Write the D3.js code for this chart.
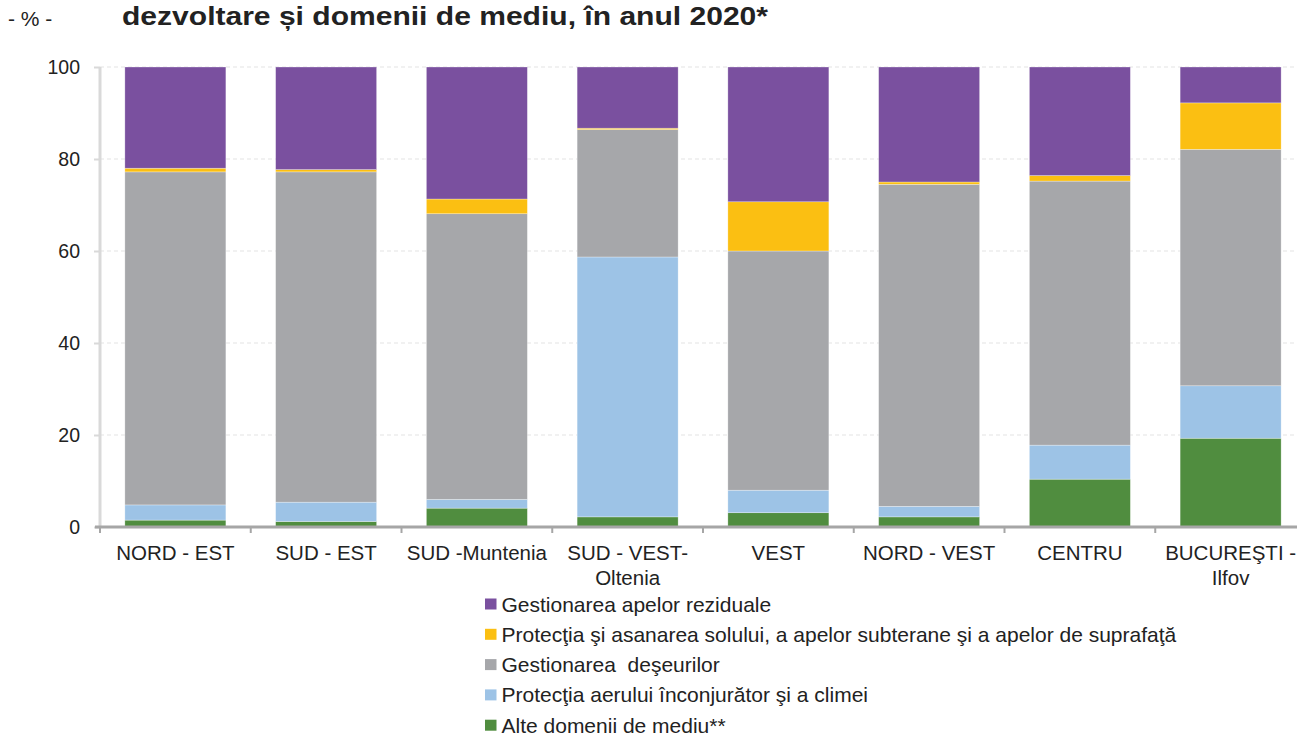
<!DOCTYPE html>
<html><head><meta charset="utf-8">
<script src="https://cdn.jsdelivr.net/npm/d3@7"></script>
<style>body{margin:0;background:#fff;} svg{display:block;font-family:"Liberation Sans",Arial,sans-serif;}</style>
</head><body>
<svg id="c" width="1297" height="736"></svg>
<script>
const categories = [["NORD - EST"],["SUD - EST"],["SUD -Muntenia"],["SUD - VEST-","Oltenia"],["VEST"],["NORD - VEST"],["CENTRU"],["BUCUREŞTI -","Ilfov"]];
const seriesNames = ["Alte domenii de mediu**","Protecţia aerului înconjurător şi a climei","Gestionarea  deşeurilor","Protecţia şi asanarea solului, a apelor subterane şi a apelor de suprafaţă","Gestionarea apelor reziduale"];
const alte = [1.5, 1.2, 4.1, 2.2, 3.1, 2.2, 10.4, 19.3];
const aer = [3.3, 4.2, 1.9, 56.5, 4.9, 2.3, 7.4, 11.4];
const deseuri = [72.4, 71.8, 62.1, 27.7, 52.0, 70.0, 57.4, 51.4];
const sol = [0.8, 0.5, 3.2, 0.3, 10.7, 0.5, 1.2, 10.1];
const ape = [22.0, 22.3, 28.7, 13.3, 29.3, 25.0, 23.6, 7.8];
const yTicks = [0, 20, 40, 60, 80, 100];
const colors = ["#508d3f","#9dc3e6","#a6a7aa","#fbbf12","#7a509f"];

const svg = d3.select("#c");
const keys = categories.map(c => c.join(" "));
const seriesVals = [alte, aer, deseuri, sol, ape];
const rows = keys.map((k,i) => { const o = {k}; seriesNames.forEach((s,j)=> o[s]=seriesVals[j][i]); return o; });
const stack = d3.stack().keys(seriesNames)(rows);

const x = d3.scaleBand().domain(keys).range([100, 1306]).paddingInner(0.33).paddingOuter(0.165);
const y = d3.scaleLinear().domain([0,100]).range([527, 67]);

// gridlines
svg.append("g").selectAll("line").data(yTicks.filter(t=>t>0)).join("line")
  .attr("x1",100).attr("x2",1297).attr("y1",d=>y(d)).attr("y2",d=>y(d))
  .attr("stroke","#e3e3e3").attr("stroke-width",1).attr("stroke-dasharray","4,3");

// y axis
const ya = svg.append("g").attr("transform","translate(100,0)").call(d3.axisLeft(y).tickValues(yTicks).tickSize(6).tickPadding(14));
ya.select(".domain").attr("stroke","#d9d9d9").attr("stroke-width",3).attr("d","M0,67V527");
ya.selectAll(".tick line").attr("stroke","#d9d9d9").attr("stroke-width",2);
ya.selectAll("text").attr("font-size",19.5).attr("fill","#222").attr("font-family","Liberation Sans, Arial, sans-serif");

// bars
svg.append("g").selectAll("g").data(stack).join("g").attr("fill",(d,i)=>colors[i])
  .selectAll("rect").data(d=>d).join("rect")
  .attr("x",d=>x(d.data.k)).attr("width",x.bandwidth())
  .attr("y",d=>y(d[1])).attr("height",d=>y(d[0])-y(d[1]))
  .attr("stroke","rgba(255,255,255,0.5)").attr("stroke-width",0.6);

// x axis
const step = x.step();
const xa = svg.append("g").attr("transform","translate(0,527)");
xa.append("line").attr("x1",95).attr("x2",1297).attr("y1",0).attr("y2",0).attr("stroke","#a6a6a6").attr("stroke-width",3);
xa.selectAll("line.t").data(d3.range(categories.length)).join("line").attr("class","t")
  .attr("x1",i=>100+i*step).attr("x2",i=>100+i*step).attr("y1",0).attr("y2",6)
  .attr("stroke","#a6a6a6").attr("stroke-width",2);
const lbl = svg.append("g").selectAll("text").data(categories).join("text")
  .attr("x",(d,i)=>x(keys[i])+x.bandwidth()/2).attr("y",560)
  .attr("text-anchor","middle").attr("font-size",20.5).attr("fill","#222");
lbl.selectAll("tspan").data(d=>d).join("tspan")
  .attr("x",function(){return this.parentNode.getAttribute("x");})
  .attr("dy",(d,i)=>i===0?0:24.5).text(d=>d);

// title & unit
svg.append("text").attr("x",8).attr("y",26).attr("font-size",21).attr("fill","#222").text("- % -");
svg.append("text").attr("x",122).attr("y",25).attr("font-size",26).attr("font-weight","bold").attr("fill","#222")
  .attr("textLength",646).attr("lengthAdjust","spacingAndGlyphs")
  .text("dezvoltare și domenii de mediu, în anul 2020*");

// legend
const legOrder = [4,3,2,1,0];
const lg = svg.append("g").selectAll("g").data(legOrder).join("g")
  .attr("transform",(d,i)=>`translate(485,${604 + i*30.3})`);
lg.append("rect").attr("x",0).attr("y",-5.5).attr("width",11.5).attr("height",11).attr("fill",d=>colors[d]);
lg.append("text").attr("x",16.5).attr("y",7.5).attr("font-size",21).attr("fill","#222").text(d=>seriesNames[d]).style("white-space","pre");
</script>
</body></html>
